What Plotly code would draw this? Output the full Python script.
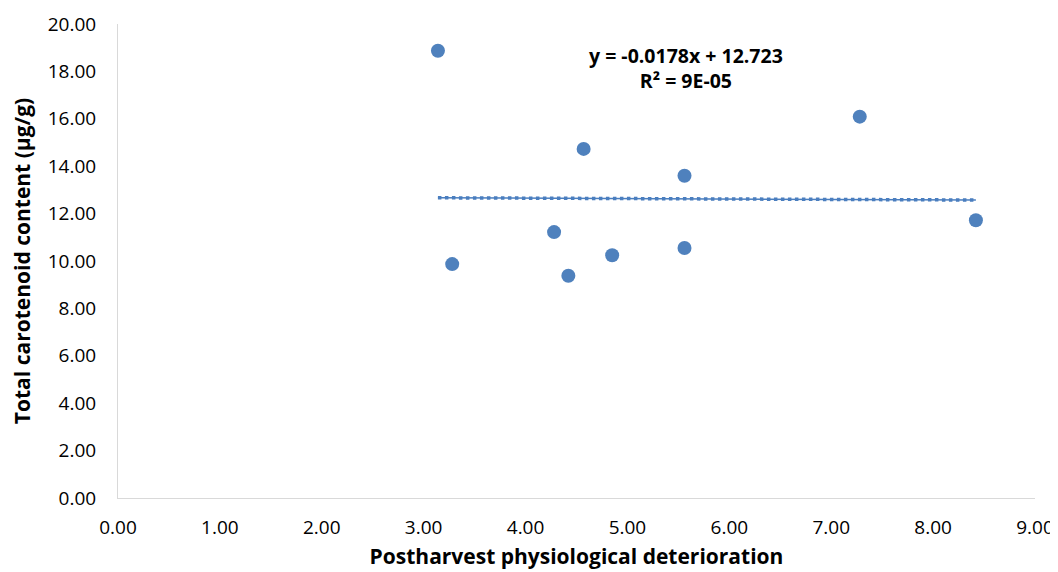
import numpy as np
import plotly.graph_objects as go

# Data
ppd = [3.14, 3.28, 4.28, 4.42, 4.57, 4.85, 5.56, 5.56, 7.28, 8.42]
carotenoid = [18.87, 9.87, 11.22, 9.38, 14.73, 10.24, 13.60, 10.55, 16.09, 11.72]

# Trendline coefficients (from chart label)
slope = -0.0178
intercept = 12.723
r2_label = "9E-05"

x_ticks = [0, 1, 2, 3, 4, 5, 6, 7, 8, 9]
y_ticks = [0, 2, 4, 6, 8, 10, 12, 14, 16, 18, 20]

trend_x = np.linspace(min(ppd), max(ppd), 2)
trend_y = slope * trend_x + intercept

blue = "#4F81BD"
font_family = "Open Sans, Liberation Sans, sans-serif"

fig = go.Figure()
fig.add_trace(go.Scatter(
    x=trend_x, y=trend_y, mode="lines",
    line=dict(color="#4a7ebf", width=1.5),
    hoverinfo="skip", showlegend=False))
fig.add_trace(go.Scatter(
    x=trend_x, y=trend_y, mode="lines",
    line=dict(color="#4a7ebf", width=3.5, dash="dot"),
    hoverinfo="skip", showlegend=False))
fig.add_trace(go.Scatter(
    x=ppd, y=carotenoid, mode="markers",
    marker=dict(color=blue, size=14, line=dict(width=0)),
    showlegend=False))

fig.add_annotation(
    x=0.619, y=1.0 - (40 - 24) / 474, xref="paper", yref="paper",
    text=f"<b>y = {slope}x + {intercept}</b><br><b>R² = {r2_label}</b>",
    showarrow=False, align="center", xanchor="center", yanchor="top",
    font=dict(family=font_family, size=19.5, color="#000000"))

fig.update_xaxes(
    range=[0, 9], tickvals=x_ticks, ticktext=[f"{v:.2f}" for v in x_ticks],
    showline=True, linecolor="#d9d9d9", linewidth=1, showgrid=False,
    zeroline=False, ticks="outside", ticklen=12, tickcolor="rgba(0,0,0,0)",
    automargin=False,
    tickfont=dict(family=font_family, size=19, color="#000"),
    title=dict(text="<b>Postharvest physiological deterioration</b>",
               font=dict(family=font_family, size=21, color="#000"), standoff=10))
fig.update_yaxes(
    range=[0, 20], tickvals=y_ticks, ticktext=[f"{v:.2f}" for v in y_ticks],
    showline=True, linecolor="#d9d9d9", linewidth=1, showgrid=False,
    zeroline=False, ticks="outside", ticklen=17, tickcolor="rgba(0,0,0,0)",
    automargin=False,
    tickfont=dict(family=font_family, size=19, color="#000"),
    title=dict(text="<b>Total carotenoid content (µg/g)</b>",
               font=dict(family=font_family, size=21, color="#000"), standoff=12))

# The page adds an 8px body margin, so the figure is sized/offset to compensate
fig.update_layout(
    width=1050, height=564,
    margin=dict(l=110, r=23, t=16, b=74),
    plot_bgcolor="white", paper_bgcolor="white",
    font=dict(family=font_family))

fig.write_html("out.html")
